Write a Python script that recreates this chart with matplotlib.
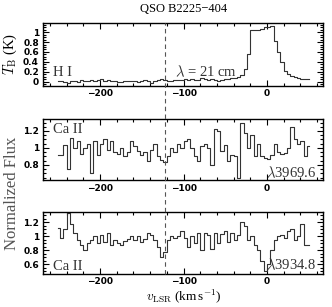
import numpy as np
import matplotlib
matplotlib.use('Agg')
import matplotlib.pyplot as plt
from matplotlib.ticker import MultipleLocator
from matplotlib.lines import Line2D
import matplotlib.transforms as mtransforms

plt.rcParams['font.family'] = 'Liberation Serif'
plt.rcParams['mathtext.fontset'] = 'cm'

# velocity grid (km/s), 4 km/s channels
vel = np.arange(-250, 51, 4)

# HI brightness temperature (K)
t_hi = [0.02, 0.01, 0.00, -0.02, 0.01, 0.02, 0.00, 0.03, 0.02, 0.01,
        0.03, 0.01, 0.04, 0.06, 0.02, 0.03, 0.01, 0.02, -0.01, 0.00,
        0.01, 0.02, 0.02, 0.01, 0.00, 0.02, 0.03, 0.01, -0.02, 0.01,
        0.04, 0.05, 0.03, 0.02, 0.02, 0.04, 0.03, 0.03, 0.05, 0.04,
        0.06, 0.04, 0.03, 0.07, 0.05, 0.04, 0.06, 0.03, 0.01, 0.04,
        0.06, 0.05, 0.07, 0.08, 0.10, 0.14, 0.25, 0.55, 1.04, 1.04,
        1.04, 1.06, 1.10, 1.10, 1.12, 0.82, 0.60, 0.40, 0.22, 0.16,
        0.12, 0.10, 0.07, 0.05, 0.06, 0.05]

# Ca II 3969.6 normalized flux
f_3969 = [0.92, 0.92, 1.04, 0.75, 1.12, 1.00, 1.08, 0.93, 1.00, 1.05,
          0.70, 1.08, 0.92, 1.05, 1.10, 0.98, 1.08, 0.95, 0.93, 1.00,
          0.90, 0.95, 1.08, 1.02, 0.97, 0.92, 0.95, 0.85, 0.98, 1.05,
          0.90, 0.86, 0.84, 0.90, 1.00, 0.95, 1.05, 1.00, 1.08, 1.10,
          1.00, 0.90, 0.85, 1.02, 1.05, 1.00, 0.80, 1.22, 1.20, 0.97,
          1.04, 0.85, 0.92, 0.90, 0.65, 1.30, 1.18, 1.00, 1.15, 0.90,
          1.05, 0.90, 0.88, 0.87, 0.92, 1.05, 0.95, 0.93, 0.94, 1.00,
          1.25, 1.10, 1.05, 1.08, 0.90, 1.02]

# Ca II 3934.8 normalized flux
f_3934 = [1.12, 0.98, 1.10, 1.33, 1.18, 1.05, 0.95, 0.87, 0.80, 0.90,
          0.95, 1.00, 0.90, 1.02, 0.92, 1.05, 0.88, 0.95, 0.90, 0.88,
          0.93, 0.96, 1.00, 0.94, 1.00, 0.92, 0.96, 1.05, 1.02, 0.95,
          0.85, 0.70, 0.78, 0.95, 1.00, 0.98, 1.00, 1.07, 0.98, 0.85,
          1.00, 0.90, 1.05, 0.80, 1.05, 1.02, 0.82, 1.05, 0.90, 1.03,
          1.08, 0.92, 1.05, 0.95, 1.02, 1.20, 1.15, 0.95, 1.00, 0.88,
          0.80, 0.65, 0.50, 0.60, 0.80, 0.95, 1.00, 1.02, 0.98, 1.08,
          1.10, 0.95, 1.00, 1.18, 0.88, 0.88]

v_ivc = -122  # dashed marker velocity

fig = plt.figure(figsize=(3.32, 3.07), dpi=100)
ax1 = fig.add_axes([0.130, 0.720, 0.843, 0.205])
ax2 = fig.add_axes([0.130, 0.413, 0.843, 0.199])
ax3 = fig.add_axes([0.130, 0.108, 0.843, 0.200])

line_col = '#333333'
for ax, y, ylim in [(ax1, t_hi, (-0.08, 1.18)),
                    (ax2, f_3969, (0.62, 1.34)),
                    (ax3, f_3934, (0.46, 1.34))]:
    ax.step(vel, y, where='mid', color=line_col, lw=0.8)
    ax.set_xlim(-268, 67)
    ax.set_ylim(*ylim)
    ax.xaxis.set_major_locator(MultipleLocator(100))
    ax.xaxis.set_minor_locator(MultipleLocator(20))
    ax.yaxis.set_major_locator(MultipleLocator(0.2))
    ax.yaxis.set_minor_locator(MultipleLocator(0.05))
    ax.tick_params(which='both', direction='in', top=True, right=True,
                   width=0.8, labelsize=6.5, pad=3)
    ax.tick_params(axis='x', pad=2.5)
    ax.tick_params(which='major', length=4)
    ax.tick_params(which='minor', length=2)
    for s in ax.spines.values():
        s.set_linewidth(1.0)
    ax.yaxis.set_major_formatter(plt.FuncFormatter(lambda x, p: '%g' % round(x, 2)))
    for lab in ax.get_xticklabels() + ax.get_yticklabels():
        lab.set_family('DejaVu Sans')
        lab.set_fontweight('bold')

txt = dict(fontsize=10.5, color='#333333')
ax1.text(0.036, 0.16, 'H I', transform=ax1.transAxes, **txt)
ax1.text(0.47, 0.16, r'$\lambda$ = 21 cm', transform=ax1.transAxes, **txt)
ax2.text(0.036, 0.93, 'Ca II', transform=ax2.transAxes, va='top', **txt)
ax2.text(0.975, 0.05, r'$\lambda$3969.6', transform=ax2.transAxes, ha='right', **txt)
ax3.text(0.036, 0.07, 'Ca II', transform=ax3.transAxes, **txt)
ax3.text(0.975, 0.07, r'$\lambda$3934.8', transform=ax3.transAxes, ha='right', **txt)

ax1.set_ylabel(r'$T_{\rm B}$ (K)', fontsize=10.5, labelpad=3)
fig.text(0.035, 0.37, 'Normalized Flux', rotation=90, ha='center', va='center',
         fontsize=12, color='#555555')
fig.text(0.553, 0.006, r'$v_{\rm LSR}$ (km$\,$s$^{-1}$)', ha='center', va='bottom',
         fontsize=9.5)
fig.text(0.553, 0.972, 'QSO B2225\u2212404', ha='center', va='center', fontsize=9)

# dashed line through all three panels
trans = mtransforms.blended_transform_factory(ax1.transData, fig.transFigure)
fig.add_artist(Line2D([v_ivc, v_ivc], [0.108, 0.925], transform=trans,
                      color='#555555', lw=0.8, ls=(0, (4, 3))))

fig.savefig('out.png', dpi=100)
